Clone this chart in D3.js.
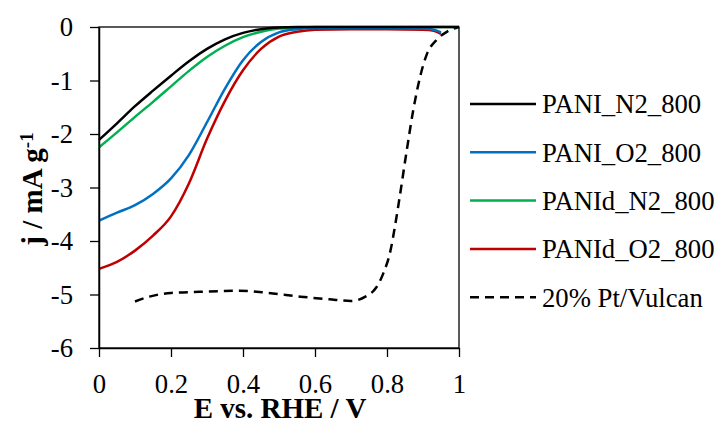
<!DOCTYPE html>
<html>
<head>
<meta charset="utf-8">
<script src="https://cdn.jsdelivr.net/npm/d3@7"></script>
<style>
  body { margin: 0; background: #fff; }
</style>
</head>
<body>
<svg class="lsv-svg"></svg>
<script>
// potentials (V vs RHE) and current densities
const eN2 = [0, 0.05, 0.1, 0.15, 0.2, 0.25, 0.3, 0.35, 0.4, 0.45, 0.5, 0.55, 0.6, 0.7, 0.8, 0.9, 1.0];
const jPaniN2 = [-2.11, -1.8, -1.48, -1.19, -0.91, -0.64, -0.41, -0.23, -0.11, -0.04, -0.01, 0, 0, 0, 0, 0, 0];
const jPanidN2 = [-2.25, -1.97, -1.68, -1.4, -1.11, -0.82, -0.56, -0.35, -0.19, -0.09, -0.03, -0.01, 0, 0, 0, 0, 0];

const eO2 = [0.0, 0.05, 0.1, 0.15, 0.2, 0.25, 0.3, 0.35, 0.4, 0.45, 0.5, 0.55, 0.6, 0.7, 0.8, 0.9, 0.93, 0.95];
const jPaniO2 = [-3.62, -3.47, -3.33, -3.12, -2.83, -2.39, -1.78, -1.15, -0.62, -0.28, -0.1, -0.04, -0.02, -0.02, -0.02, -0.03, -0.05, -0.1];
const jPanidO2 = [-4.52, -4.39, -4.18, -3.9, -3.54, -2.92, -2.09, -1.38, -0.81, -0.41, -0.18, -0.09, -0.05, -0.04, -0.04, -0.05, -0.07, -0.13];

const ePt = [0.1, 0.14, 0.2, 0.28, 0.39, 0.47, 0.56, 0.64, 0.7, 0.74, 0.77, 0.79, 0.81, 0.822, 0.834, 0.855, 0.873, 0.892, 0.91, 0.938, 0.966, 1.0];
const jPt = [-5.13, -5.04, -4.97, -4.95, -4.93, -4.97, -5.04, -5.09, -5.12, -5.04, -4.87, -4.6, -4.17, -3.73, -3.23, -2.3, -1.55, -0.93, -0.52, -0.24, -0.09, 0];

const seriesNames = ["PANI_N2_800", "PANI_O2_800", "PANId_N2_800", "PANId_O2_800", "20% Pt/Vulcan"];
const seriesColors = ["#000000", "#0070c0", "#00b050", "#c00000", "#000000"];
const xTicks = [0, 0.2, 0.4, 0.6, 0.8, 1];
const yTicks = [0, -1, -2, -3, -4, -5, -6];

const width = 717;
const height = 423;
const plotLeft = 99, plotRight = 459, plotTop = 27, plotBottom = 348;
const serif = '"Liberation Serif", "Times New Roman", serif';

const series = [
  { name: seriesNames[0], color: seriesColors[0], e: eN2, j: jPaniN2, dash: null },
  { name: seriesNames[1], color: seriesColors[1], e: eO2, j: jPaniO2, dash: null },
  { name: seriesNames[2], color: seriesColors[2], e: eN2, j: jPanidN2, dash: null },
  { name: seriesNames[3], color: seriesColors[3], e: eO2, j: jPanidO2, dash: null },
  { name: seriesNames[4], color: seriesColors[4], e: ePt, j: jPt, dash: "9,6" },
];

const xScale = d3.scaleLinear().domain([0, 1]).range([plotLeft, plotRight]);
const yScale = d3.scaleLinear().domain([-6, 0]).range([plotBottom, plotTop]);

const svg = d3
  .select(".lsv-svg")
  .attr("width", width)
  .attr("height", height)
  .style("display", "block");

// frame
svg
  .append("rect")
  .attr("x", plotLeft)
  .attr("y", plotTop)
  .attr("width", plotRight - plotLeft)
  .attr("height", plotBottom - plotTop)
  .attr("fill", "none")
  .attr("stroke", "#000")
  .attr("stroke-width", 1.3);

const line = d3
  .line()
  .x((d) => xScale(d[0]))
  .y((d) => yScale(d[1]))
  .curve(d3.curveMonotoneX);

// draw Pt first so the PANI curves sit on top of it
series
  .slice()
  .reverse()
  .forEach((s) => {
    svg
      .append("path")
      .datum(s.e.map((e, i) => [e, s.j[i]]))
      .attr("d", line)
      .attr("fill", "none")
      .attr("stroke", s.color)
      .attr("stroke-width", 2.5)
      .attr("stroke-dasharray", s.dash);
  });

const xAxis = svg
  .append("g")
  .attr("transform", "translate(0," + plotBottom + ")")
  .call(
    d3.axisBottom(xScale).tickValues(xTicks).tickFormat((d) => `${d}`)
      .tickSizeInner(9).tickSizeOuter(0).tickPadding(17)
  );

const yAxis = svg
  .append("g")
  .attr("transform", "translate(" + plotLeft + ",0)")
  .call(
    d3.axisLeft(yScale).tickValues(yTicks).tickFormat((d) => `${d}`)
      .tickSizeInner(9).tickSizeOuter(0).tickPadding(17)
  );

[xAxis, yAxis].forEach((ax) => {
  ax.attr("font-family", null).attr("font-size", null);
  ax.select(".domain").attr("stroke", "#000").attr("stroke-width", 1.5);
  ax.selectAll(".tick line").attr("stroke", "#000").attr("stroke-width", 1.3);
  ax.selectAll("text")
    .attr("fill", "#000")
    .style("font-family", serif)
    .style("font-size", "26.7px");
});

// axis titles
svg
  .append("text")
  .attr("x", (plotLeft + plotRight) / 2 + 1)
  .attr("y", 418)
  .attr("text-anchor", "middle")
  .style("font-family", serif)
  .style("font-size", "29px")
  .style("font-weight", "bold")
  .text("E vs. RHE / V");

const yTitle = svg
  .append("text")
  .attr("transform", "translate(42,189)rotate(-90)")
  .attr("text-anchor", "middle")
  .style("font-family", serif)
  .style("font-size", "29px")
  .style("font-weight", "bold");
yTitle.append("tspan").text("j / mA g");
yTitle.append("tspan").attr("dy", "-0.45em").style("font-size", "19px").text("-1");

// legend
const legend = svg
  .selectAll(".legend")
  .data(series)
  .enter()
  .append("g")
  .attr("class", "legend")
  .attr("transform", (d, i) => "translate(470," + (104 + i * 48.3) + ")");

legend
  .append("line")
  .attr("x1", 0)
  .attr("x2", 66)
  .attr("stroke", (d) => d.color)
  .attr("stroke-width", 2.5)
  .attr("stroke-dasharray", (d) => d.dash);

legend
  .append("text")
  .attr("x", 72)
  .attr("dy", "0.35em")
  .style("font-family", serif)
  .style("font-size", "26.7px")
  .text((d) => d.name);
</script>
</body>
</html>
